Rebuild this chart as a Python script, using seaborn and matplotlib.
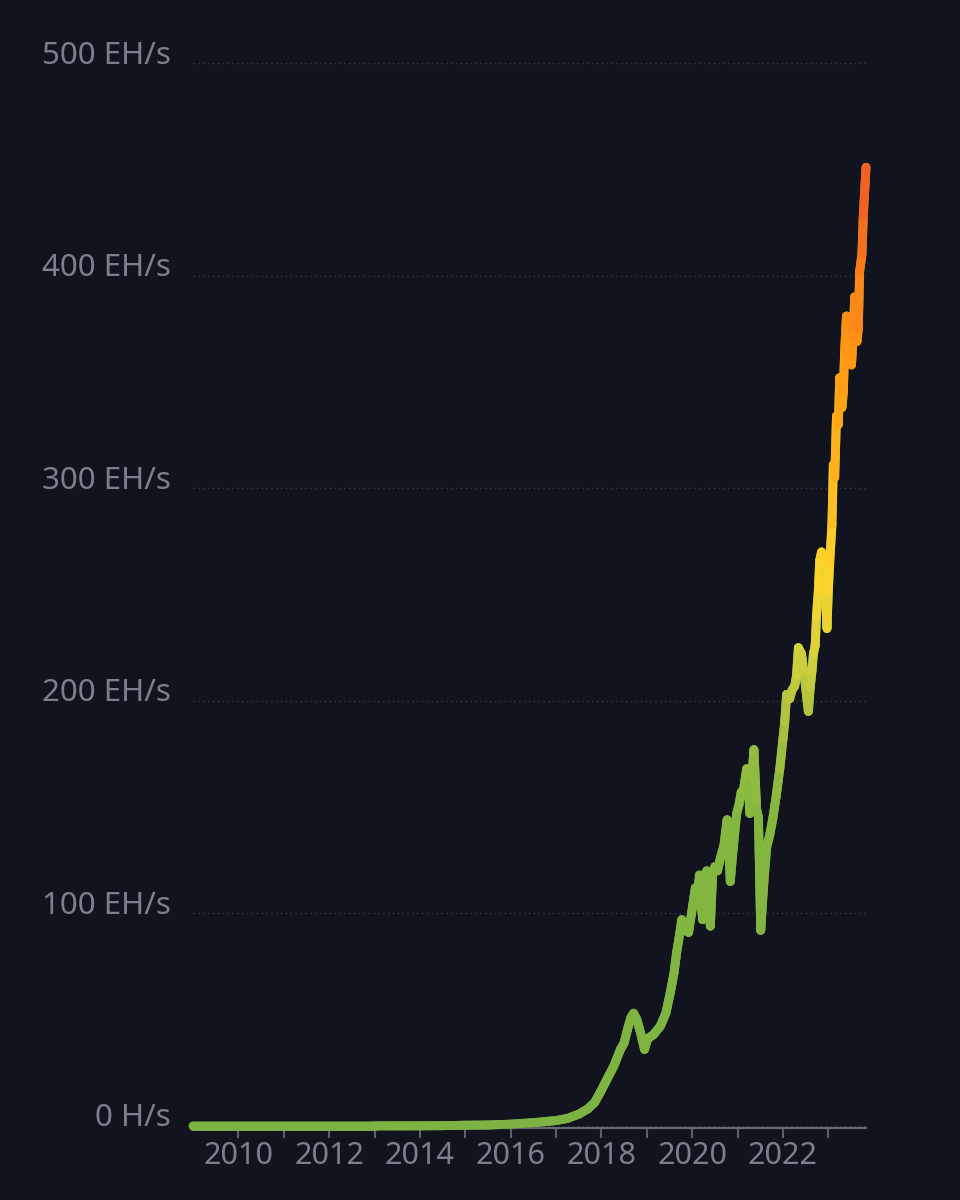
import matplotlib
matplotlib.use("Agg")
import matplotlib.pyplot as plt
import seaborn as sns
import numpy as np
from matplotlib.collections import LineCollection
from matplotlib.colors import LinearSegmentedColormap, Normalize
from matplotlib.transforms import ScaledTranslation

# hashrate (decimal year, EH/s)
years = [2009.0, 2010.0, 2011.0, 2012.0, 2013.0, 2014.0, 2014.5, 2015.0, 2015.5,
         2016.0, 2016.5, 2017.0, 2017.25, 2017.5, 2017.7, 2017.85, 2017.98,
         2018.1, 2018.27, 2018.42, 2018.5, 2018.57, 2018.65, 2018.71, 2018.78,
         2018.86, 2018.95, 2019.02, 2019.15, 2019.3, 2019.42, 2019.52, 2019.6,
         2019.66, 2019.7, 2019.77, 2019.84, 2019.92, 2020.0, 2020.07, 2020.12,
         2020.16, 2020.2, 2020.23, 2020.28, 2020.32, 2020.37, 2020.4, 2020.45,
         2020.5, 2020.56, 2020.62, 2020.7, 2020.77, 2020.81, 2020.84, 2020.9,
         2020.98, 2021.03, 2021.08, 2021.13, 2021.2, 2021.24, 2021.27, 2021.32,
         2021.36, 2021.42, 2021.46, 2021.51, 2021.58, 2021.64, 2021.71, 2021.78,
         2021.85, 2021.93, 2022.0, 2022.04, 2022.08, 2022.15, 2022.2, 2022.26,
         2022.3, 2022.34, 2022.41, 2022.48, 2022.56, 2022.6, 2022.64, 2022.67,
         2022.71, 2022.74, 2022.78, 2022.81, 2022.85, 2022.88, 2022.92, 2022.97,
         2023.0, 2023.03, 2023.08, 2023.11, 2023.14, 2023.18, 2023.22, 2023.25,
         2023.3, 2023.33, 2023.36, 2023.4, 2023.43, 2023.46, 2023.51, 2023.55,
         2023.58, 2023.63, 2023.66, 2023.69, 2023.74, 2023.77, 2023.83]
hashrate = [0, 0, 0, 0, 0, 0.01, 0.1, 0.3, 0.4,
            0.8, 1.5, 2.5, 3.5, 5.5, 8, 11, 16,
            21, 28, 36, 39, 45, 51, 53, 50,
            44, 36, 41, 43, 47, 53, 63, 72,
            82, 87, 97, 92, 91, 102, 112, 108,
            118, 104, 97, 116, 120, 104, 94, 118,
            122, 120, 126, 132, 144, 128, 115, 130,
            147, 151, 157, 158, 168, 160, 147, 165,
            177, 149, 145, 92, 115, 131, 137, 145,
            155, 168, 182, 190, 203, 201, 205, 207,
            212, 225, 222, 210, 195, 206, 214, 222,
            226, 240, 252, 266, 270, 264, 262, 234,
            252, 265, 283, 311, 305, 334, 330, 352,
            338, 345, 365, 381, 372, 360, 358, 372,
            390, 369, 375, 402, 410, 428, 451]

tick_years = list(range(2010, 2024))
tick_labels = [str(y) if y % 2 == 0 else "" for y in tick_years]
y_ticks = [0, 100, 200, 300, 400, 500]
y_labels = ["0 H/s", "100 EH/s", "200 EH/s", "300 EH/s", "400 EH/s", "500 EH/s"]

# colour stops by value
stop_vals = [0, 150, 200, 225, 260, 300, 350, 400, 455]
stop_cols = ["#7cb342", "#84b740", "#b5c43f", "#d6d23c", "#fdd32b",
             "#ffbd22", "#ffa014", "#fb7f19", "#f15625"]

BG = "#11131e"
TXT = "#7d808c"

sns.set_theme(style="dark", rc={
    "figure.facecolor": BG, "axes.facecolor": BG, "savefig.facecolor": BG,
})
plt.rcParams["font.family"] = ["Noto Sans", "DejaVu Sans"]

fig = plt.figure(figsize=(9.6, 12), dpi=100)
ax = fig.add_axes([193 / 960, 72 / 1200, 673 / 960, 1067 / 1200])

# base line through seaborn, gradient drawn on top
sns.lineplot(x=years, y=hashrate, ax=ax, color=stop_cols[0], lw=6.4,
             solid_capstyle="round", solid_joinstyle="round", clip_on=False)

cmap = LinearSegmentedColormap.from_list(
    "hr", [(v / stop_vals[-1], c) for v, c in zip(stop_vals, stop_cols)])
pts = np.column_stack([years, hashrate])
segs = np.stack([pts[:-1], pts[1:]], axis=1)
mid = (np.array(hashrate[:-1]) + np.array(hashrate[1:])) / 2
lc = LineCollection(segs, cmap=cmap, norm=Normalize(0, stop_vals[-1]),
                    linewidths=6.4, capstyle="round", joinstyle="round",
                    clip_on=False, zorder=3)
lc.set_array(mid)
ax.add_collection(lc)

ax.set_xlim(2009.0, 2023.83)
ax.set_ylim(-1, 501)

ax.set_xticks(tick_years)
ax.set_xticklabels(tick_labels)
ax.set_yticks(y_ticks)
ax.set_yticklabels(y_labels)

ax.tick_params(axis="x", bottom=True, direction="out", length=7.5, width=1.5,
               color="#5c5f6c", labelcolor=TXT, labelsize=22, pad=2)
ax.tick_params(axis="y", left=False, length=0, labelcolor=TXT, labelsize=22.5,
               pad=16)
off = ScaledTranslation(0, 0.11, fig.dpi_scale_trans)
for lab in ax.get_yticklabels():
    lab.set_transform(lab.get_transform() + off)

ax.grid(False)
ax.yaxis.grid(True, color="#363a48", linestyle=(0, (1, 2.5)), linewidth=1.0)
ax.xaxis.grid(False)

for s in ["top", "right", "left"]:
    ax.spines[s].set_visible(False)
ax.spines["bottom"].set_visible(True)
ax.spines["bottom"].set_color("#666a76")
ax.spines["bottom"].set_linewidth(1.6)
ax.set_xlabel("")
ax.set_ylabel("")

fig.savefig("out.png", dpi=100, facecolor=BG)
plt.close(fig)
